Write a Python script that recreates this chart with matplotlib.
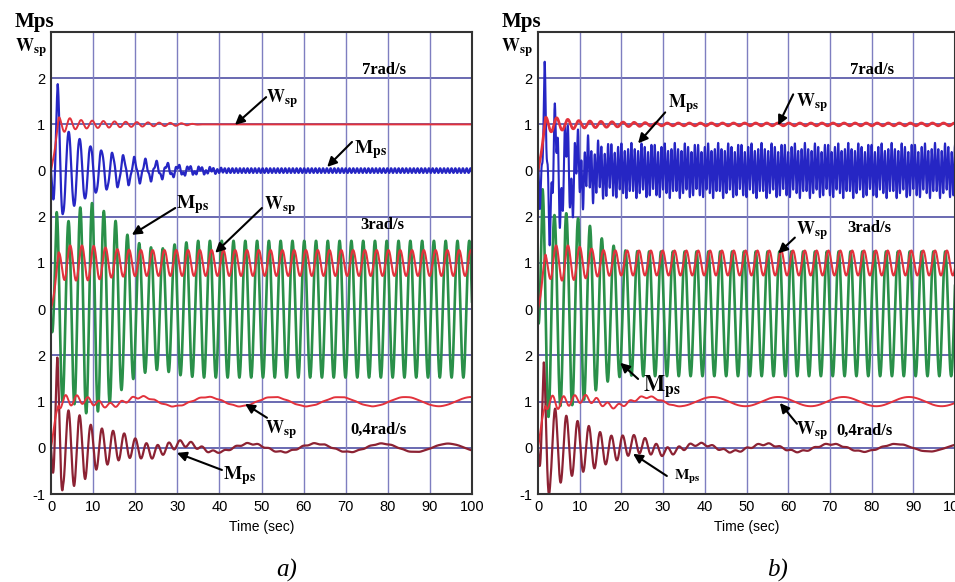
import numpy as np
import matplotlib.pyplot as plt

plt.rcParams['font.family'] = ['Liberation Sans Narrow', 'Liberation Sans', 'DejaVu Sans']
plt.rcParams['mathtext.fontset'] = 'stix'

W, H = 955, 582  # output size in pixels

# ---- values ---------------------------------------------------------------
# every trace = level + envelope * swing; envelopes are (time, amplitude) readings
t = np.linspace(0, 100, 20001)

STEP_T = [0, 1.8, 100]            # speed settles to 1 after ~2 s
STEP_V = [0, 1.0, 1.0]

PERIOD_TR = 2.65                  # damped swing period (s)
PERIOD_MID = 2.8                  # sustained swing, 3 rad/s case
PERIOD_SLOW = 15.7                # 0.4 rad/s disturbance
PERIOD_7 = 2 * np.pi / 7          # 7 rad/s ripple (panel a)
PERIOD_RIP_B = 0.8                # dense ripple in panel b, top band

BAND_OFFSET = [6, 3, 0]           # top (7 rad/s), middle (3 rad/s), bottom (0.4 rad/s)
YTICK_POS = list(range(-1, 9))
YTICK_LAB = ['-1', '0', '1', '2', '0', '1', '2', '0', '1', '2']
XTICKS = list(range(0, 101, 10))

# panel a -------------------------------------------------------------------
A_TOP_WSP_T = [0, 2, 3.3, 6, 10, 20, 30, 36, 100]
A_TOP_WSP_E = [0, 0.16, 0.16, 0.10, 0.08, 0.05, 0.03, 0.0, 0.0]
A_TOP_MPS_T = [0, 0.8, 1.6, 2.9, 4.1, 6.8, 9.3, 11.9, 14.4, 17.2, 19.8, 25, 30, 35, 42, 100]
A_TOP_MPS_E = [0, 1.1, 1.87, 0.9, 0.85, 0.7, 0.55, 0.45, 0.38, 0.30, 0.25, 0.17, 0.10, 0.06, 0.0, 0.0]
A_TOP_RIP_T = [0, 20, 100]
A_TOP_RIP_E = [0.0, 0.05, 0.05]

A_MID_MPS_T = [0, 1.35, 4.1, 6.9, 9.7, 12.2, 15, 17.6, 20.4, 23, 26, 30, 35, 100]
A_MID_MPS_E = [0.3, 2.1, 1.9, 2.2, 2.3, 2.15, 1.95, 1.65, 1.45, 1.35, 1.3, 1.42, 1.48, 1.48]
A_MID_WSP_T = [0, 1.5, 3.3, 7.3, 10.1, 15.6, 21, 100]
A_MID_WSP_E = [0, 0.2, 0.38, 0.38, 0.37, 0.30, 0.28, 0.28]

A_BOT_MPS_T = [0, 0.8, 1.5, 2.9, 5.5, 6.7, 8.1, 9.3, 11.6, 14.4, 17.2, 20, 24, 28, 33, 40, 100]
A_BOT_MPS_E = [0, 1.2, 1.95, 0.8, 0.82, 0.72, 0.66, 0.52, 0.43, 0.35, 0.28, 0.21, 0.15, 0.10, 0.06, 0.02, 0]
A_BOT_MPS_SLOW_T = [0, 15, 25, 100]
A_BOT_MPS_SLOW_E = [0, 0.03, 0.09, 0.09]
A_BOT_WSP_T = [0, 2, 4, 8, 12, 18, 25, 100]
A_BOT_WSP_E = [0, 0.15, 0.12, 0.08, 0.06, 0.04, 0.01, 0]
A_BOT_WSP_SLOW_T = [0, 8, 18, 100]
A_BOT_WSP_SLOW_E = [0, 0.05, 0.10, 0.10]

# panel b -------------------------------------------------------------------
B_TOP_WSP_T = [0, 2, 3.3, 6, 10, 20, 30, 100]
B_TOP_WSP_E = [0, 0.16, 0.16, 0.12, 0.08, 0.05, 0.03, 0.03]
B_TOP_MPS_T = [0, 0.8, 1.6, 2.9, 4.2, 5.7, 6.8, 8.5, 9.4, 12.2, 15, 20, 100]
B_TOP_MPS_E = [0, 1.0, 1.95, 1.1, 1.05, 0.9, 0.8, 0.65, 0.45, 0.25, 0.15, 0.1, 0.1]
B_TOP_RIP_T = [0, 3, 100]
B_TOP_RIP_E = [0.3, 0.5, 0.5]

B_MID_MPS_T = [0, 1.1, 3.9, 6.8, 9.6, 12.4, 15, 17.8, 21, 25, 100]
B_MID_MPS_E = [0.3, 2.6, 2.05, 2.1, 2.0, 1.85, 1.6, 1.45, 1.35, 1.35, 1.35]
B_MID_LEVEL_T = [0, 15, 25, 100]
B_MID_LEVEL_V = [0, -0.05, -0.1, -0.1]
B_MID_WSP_T = [0, 1.5, 3.3, 7.3, 10, 15, 20, 100]
B_MID_WSP_E = [0, 0.2, 0.38, 0.38, 0.35, 0.28, 0.27, 0.27]

B_BOT_MPS_T = [0, 0.7, 1.4, 3, 4.2, 5.6, 6.8, 8.2, 9.4, 12.2, 14.6, 17, 19.8, 22, 25, 28, 32, 38, 100]
B_BOT_MPS_E = [0, 1.0, 1.85, 0.8, 0.85, 0.75, 0.68, 0.62, 0.57, 0.48, 0.38, 0.30, 0.25, 0.22, 0.18, 0.13, 0.08, 0.03, 0]
B_BOT_MPS_SLOW_T = [0, 15, 25, 100]
B_BOT_MPS_SLOW_E = [0, 0.03, 0.08, 0.08]
B_BOT_WSP_T = [0, 2, 4, 8, 14, 20, 28, 35, 100]
B_BOT_WSP_E = [0, 0.15, 0.15, 0.10, 0.07, 0.04, 0.02, 0, 0]
B_BOT_WSP_SLOW_T = [0, 8, 18, 100]
B_BOT_WSP_SLOW_E = [0, 0.05, 0.10, 0.10]

BLUE = '#2626c4'
RED = '#e2323c'
GREEN = '#2a9049'
MAROON = '#8c2233'
GRID_H = '#5050a4'
GRID_V = '#7e7ec0'


def swing(env_t, env_v, period, t_peak):
    return np.interp(t, env_t, env_v) * np.cos(2 * np.pi * (t - t_peak) / period)


def step():
    return np.interp(t, STEP_T, STEP_V)


# traces, per panel: (values, colour, lw) in drawing order
a_traces = [
    (BAND_OFFSET[1] + swing(A_MID_MPS_T, A_MID_MPS_E, PERIOD_MID, 1.35), GREEN, 1.9),
    (BAND_OFFSET[1] + step() + swing(A_MID_WSP_T, A_MID_WSP_E, PERIOD_MID, 1.75), RED, 1.5),
    (BAND_OFFSET[2] + swing(A_BOT_MPS_T, A_BOT_MPS_E, PERIOD_TR, 1.5)
     + swing(A_BOT_MPS_SLOW_T, A_BOT_MPS_SLOW_E, PERIOD_SLOW, 47.25), MAROON, 1.6),
    (BAND_OFFSET[2] + step() + swing(A_BOT_WSP_T, A_BOT_WSP_E, PERIOD_TR, 3.5)
     + swing(A_BOT_WSP_SLOW_T, A_BOT_WSP_SLOW_E, PERIOD_SLOW, 52.85), RED, 1.4),
    (BAND_OFFSET[0] + swing(A_TOP_MPS_T, A_TOP_MPS_E, 2.6, 1.6)
     + swing(A_TOP_RIP_T, A_TOP_RIP_E, PERIOD_7, 0), BLUE, 1.6),
    (BAND_OFFSET[0] + step() + swing(A_TOP_WSP_T, A_TOP_WSP_E, PERIOD_TR, 4.5), RED, 1.4),
]

b_traces = [
    (BAND_OFFSET[1] + np.interp(t, B_MID_LEVEL_T, B_MID_LEVEL_V)
     + swing(B_MID_MPS_T, B_MID_MPS_E, 2.84, 1.1), GREEN, 1.9),
    (BAND_OFFSET[1] + step() + swing(B_MID_WSP_T, B_MID_WSP_E, 2.84, 1.5), RED, 1.5),
    (BAND_OFFSET[2] + swing(B_BOT_MPS_T, B_BOT_MPS_E, 2.7, 1.4)
     + swing(B_BOT_MPS_SLOW_T, B_BOT_MPS_SLOW_E, PERIOD_SLOW, 38.85), MAROON, 1.6),
    (BAND_OFFSET[2] + step() + swing(B_BOT_WSP_T, B_BOT_WSP_E, PERIOD_TR, 3.5)
     + swing(B_BOT_WSP_SLOW_T, B_BOT_WSP_SLOW_E, PERIOD_SLOW, 41.85), RED, 1.4),
    (BAND_OFFSET[0] + swing(B_TOP_MPS_T, B_TOP_MPS_E, 2.6, 1.6)
     + swing(B_TOP_RIP_T, B_TOP_RIP_E, PERIOD_RIP_B, 0), BLUE, 1.5),
    (BAND_OFFSET[0] + step() + swing(B_TOP_WSP_T, B_TOP_WSP_E, PERIOD_TR, 4.5), RED, 2.0),
]

MPS = r'$\mathbf{M}_{\mathbf{ps}}$'
WSP = r'$\mathbf{W}_{\mathbf{sp}}$'

# (label, text xy, arrow tail, arrow tip, fontsize) in data units
a_notes = [
    (WSP, (54.9, 7.55), (51.1, 7.59), (43.7, 6.99), 13),
    (MPS, (75.8, 6.45), (71.5, 6.62), (65.6, 6.08), 14),
    (MPS, (33.7, 5.26), (29.5, 5.19), (19.2, 4.61), 14),
    (WSP, (54.4, 5.23), (50.1, 5.19), (39.0, 4.22), 13),
    (WSP, (54.6, 0.39), (51.3, 0.65), (46.1, 0.95), 13),
    (MPS, (44.9, -0.61), (40.6, -0.48), (29.9, -0.11), 14),
]
b_notes = [
    (MPS, (35.0, 7.44), (30.5, 7.26), (24.0, 6.59), 13),
    (WSP, (65.7, 7.46), (61.2, 7.65), (57.6, 6.98), 13),
    (WSP, (65.7, 4.70), (61.6, 4.55), (57.6, 4.21), 13),
    (MPS, (29.7, 1.34), (24.0, 1.49), (19.7, 1.84), 16),
    (WSP, (65.7, 0.37), (62.1, 0.52), (58.0, 0.97), 13),
    (MPS, (35.7, -0.63), (30.9, -0.61), (22.8, -0.13), 11),
]
a_speeds = [('7rad/s', (79.1, 8.18)), ('3rad/s', (78.6, 4.82)), ('0,4rad/s', (77.9, 0.39))]
b_speeds = [('7rad/s', (80.1, 8.18)), ('3rad/s', (79.4, 4.75)), ('0,4rad/s', (78.2, 0.37))]


def draw_panel(ax, traces, notes, speeds):
    for y in YTICK_POS[1:]:
        ax.axhline(y, color=GRID_H, lw=1.2, zorder=1)
    for x in XTICKS[1:-1]:
        ax.axvline(x, color=GRID_V, lw=1.0, zorder=1)
    for vals, col, lw in traces:
        ax.plot(t, vals, color=col, lw=lw, zorder=2)
    for lab, txy, tail, tip, fs in notes:
        ax.text(txy[0], txy[1], lab, fontsize=fs, ha='center', va='center', zorder=4)
        ax.annotate('', xy=tip, xytext=tail,
                    arrowprops=dict(arrowstyle='-|>', color='black', lw=1.5,
                                    mutation_scale=14, shrinkA=0, shrinkB=0),
                    zorder=4)
    for lab, txy in speeds:
        ax.text(txy[0], txy[1], lab, fontsize=12, fontweight='bold',
                family='Liberation Serif', ha='center', va='center', zorder=4)
    ax.set_xlim(0, 100)
    ax.set_ylim(-1, 9)
    ax.set_xticks(XTICKS)
    ax.set_xticklabels([str(v) for v in XTICKS], fontsize=10.5)
    ax.set_yticks(YTICK_POS)
    ax.set_yticklabels(YTICK_LAB, fontsize=10.5)
    ax.tick_params(length=0, pad=4)
    ax.set_xlabel('Time (sec)', fontsize=10, labelpad=5)
    for s in ax.spines.values():
        s.set_color('#333333')
        s.set_linewidth(1.5)


fig = plt.figure(figsize=(W / 100, H / 100), dpi=100)
ax_a = fig.add_axes([51 / W, 1 - 494 / H, 421 / W, 462 / H])
ax_b = fig.add_axes([538 / W, 1 - 494 / H, 417 / W, 462 / H])
draw_panel(ax_a, a_traces, a_notes, a_speeds)
draw_panel(ax_b, b_traces, b_notes, b_speeds)

# axis name over each panel
for x0 in (34, 521):
    fig.text(x0 / W, 1 - 22 / H, 'Mps', fontsize=15, fontweight='bold',
             family='Liberation Serif', ha='center', va='center')
for x0 in (31, 517):
    fig.text(x0 / W, 1 - 48 / H, WSP, fontsize=13, ha='center', va='center')

fig.text(287 / W, 1 - 570 / H, 'a)', fontsize=18, style='italic',
         family='Liberation Serif', ha='center', va='center')
fig.text(778 / W, 1 - 570 / H, 'b)', fontsize=18, style='italic',
         family='Liberation Serif', ha='center', va='center')

fig.savefig('out.png', dpi=100)
